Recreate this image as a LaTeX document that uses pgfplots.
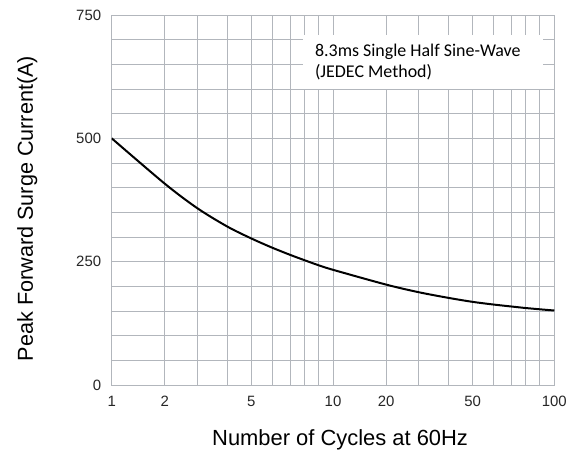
\documentclass[border=0pt]{standalone}
\usepackage{pgfplots}
\pgfplotsset{compat=1.18}
\usepackage{fontspec}
\setmainfont{Liberation Sans}
\newfontfamily\calfont{Carlito}
\definecolor{gridc}{RGB}{178,182,188}
\begin{document}
\begin{tikzpicture}[x=1bp,y=1bp]
\useasboundingbox (0,0) rectangle (583,459);
\begin{axis}[
  at={(111.7bp,74bp)}, anchor=origin,
  scale only axis, width=442.6bp, height=370bp,
  xmin=0, xmax=2, ymin=0, ymax=750,
  xtick={0,0.240,0.631,1,1.240,1.631,2},
  xticklabels={1,2,5,10,20,50,100},
  minor xtick={0.388,0.523,0.727,0.808,0.871,0.933,1.388,1.523,1.727,1.808,1.871,1.933},
  ytick={0,250,500,750},
  minor ytick={50,100,150,200,300,350,400,450,550,600,650,700},
  grid=both,
  major grid style={gridc, line width=0.8pt},
  minor grid style={gridc, line width=0.8pt},
  major tick length=0pt, minor tick length=0pt,
  axis line style={gridc, line width=0.8pt},
  /pgf/number format/assume math mode=true,
  ticklabel style={font=\fontsize{15}{18}\selectfont, text=black!85},
  xticklabel style={yshift=-8bp},
  yticklabel style={xshift=-7bp},
  xlabel={Number of Cycles at 60Hz},
  ylabel={Peak Forward Surge Current(A)},
  xlabel style={font=\fontsize{22}{26}\selectfont, at={(axis description cs:0.516,-0.149)}, anchor=center},
  ylabel style={font=\fontsize{21.7}{26}\selectfont, at={(axis description cs:-0.191,0.477)}, anchor=center},
]
\fill[white] (rel axis cs:0.432,0.800) rectangle (rel axis cs:0.975,0.946);
\node[anchor=west, align=left, font=\calfont\fontsize{18}{21}\selectfont, inner sep=0pt]
  at (rel axis cs:0.459,0.873) {8.3ms Single Half Sine-Wave\\(JEDEC Method)};
% x positions follow the chart's own (distorted) logarithmic grid: 1,2,...,10,20,...,100
\addplot[black, line width=2pt, smooth, tension=0.5] coordinates {
  (0,500) (0.240,408) (0.388,358) (0.523,321) (0.631,297) (0.727,278)
  (0.808,263.5) (0.871,253) (0.933,243) (1,233.5) (1.240,203.5) (1.388,188)
  (1.523,176.5) (1.631,168.5) (1.727,163) (1.808,159) (1.871,156) (1.933,153.5) (2,151)
};
\end{axis}
\end{tikzpicture}
\end{document}
